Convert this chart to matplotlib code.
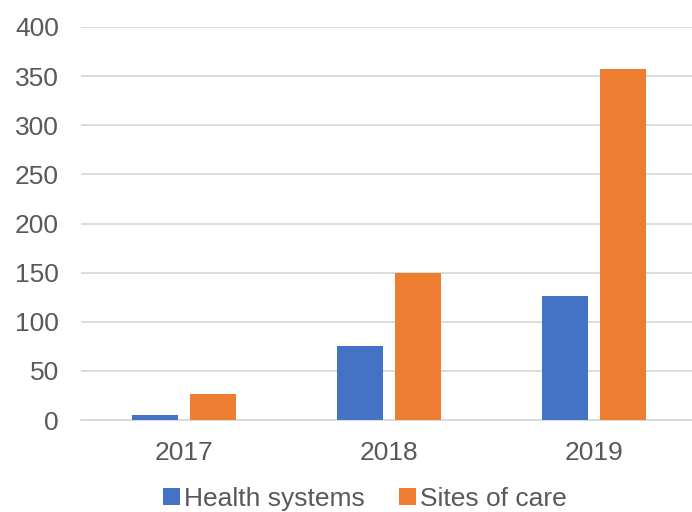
import numpy as np
import matplotlib.pyplot as plt

years = ["2017", "2018", "2019"]
health_systems = [5, 75, 126]
sites_of_care = [26, 150, 357]
yticks = [0, 50, 100, 150, 200, 250, 300, 350, 400]

plt.rcParams['font.family'] = ['Liberation Sans', 'DejaVu Sans']

fig = plt.figure(figsize=(6.92, 5.12), dpi=100)
ax = fig.add_axes([81/692, 1 - 420/512, 616/692, (420 - 27)/512])

x = np.arange(len(years))
w = 0.224
gap = 0.06
ax.bar(x - (w + gap)/2, health_systems, w, color='#4472C4', label='Health systems', zorder=3)
ax.bar(x + (w + gap)/2, sites_of_care, w, color='#ED7D31', label='Sites of care', zorder=3)

ax.set_xlim(-0.5, 2.5)
ax.set_ylim(0, 400)
ax.set_yticks(yticks)
ax.set_xticks(x)
ax.set_xticklabels(years)
ax.grid(axis='y', color='#D9D9D9', linewidth=1.3, zorder=0)
for s in ['top', 'right', 'left']:
    ax.spines[s].set_visible(False)
ax.spines['bottom'].set_color('#D9D9D9')
ax.spines['bottom'].set_linewidth(1.3)
ax.tick_params(axis='both', length=0, labelsize=19, labelcolor='#595959')
ax.tick_params(axis='y', pad=16)
ax.tick_params(axis='x', pad=15)

fig.legend(loc='center', bbox_to_anchor=(364.5/692, 1 - 499/512), ncol=2, frameon=False,
           fontsize=19, labelcolor='#595959', handlelength=0.64, handleheight=0.64,
           handletextpad=0.15, columnspacing=1.3, borderaxespad=0, borderpad=0)

fig.savefig('out.png', dpi=100)
